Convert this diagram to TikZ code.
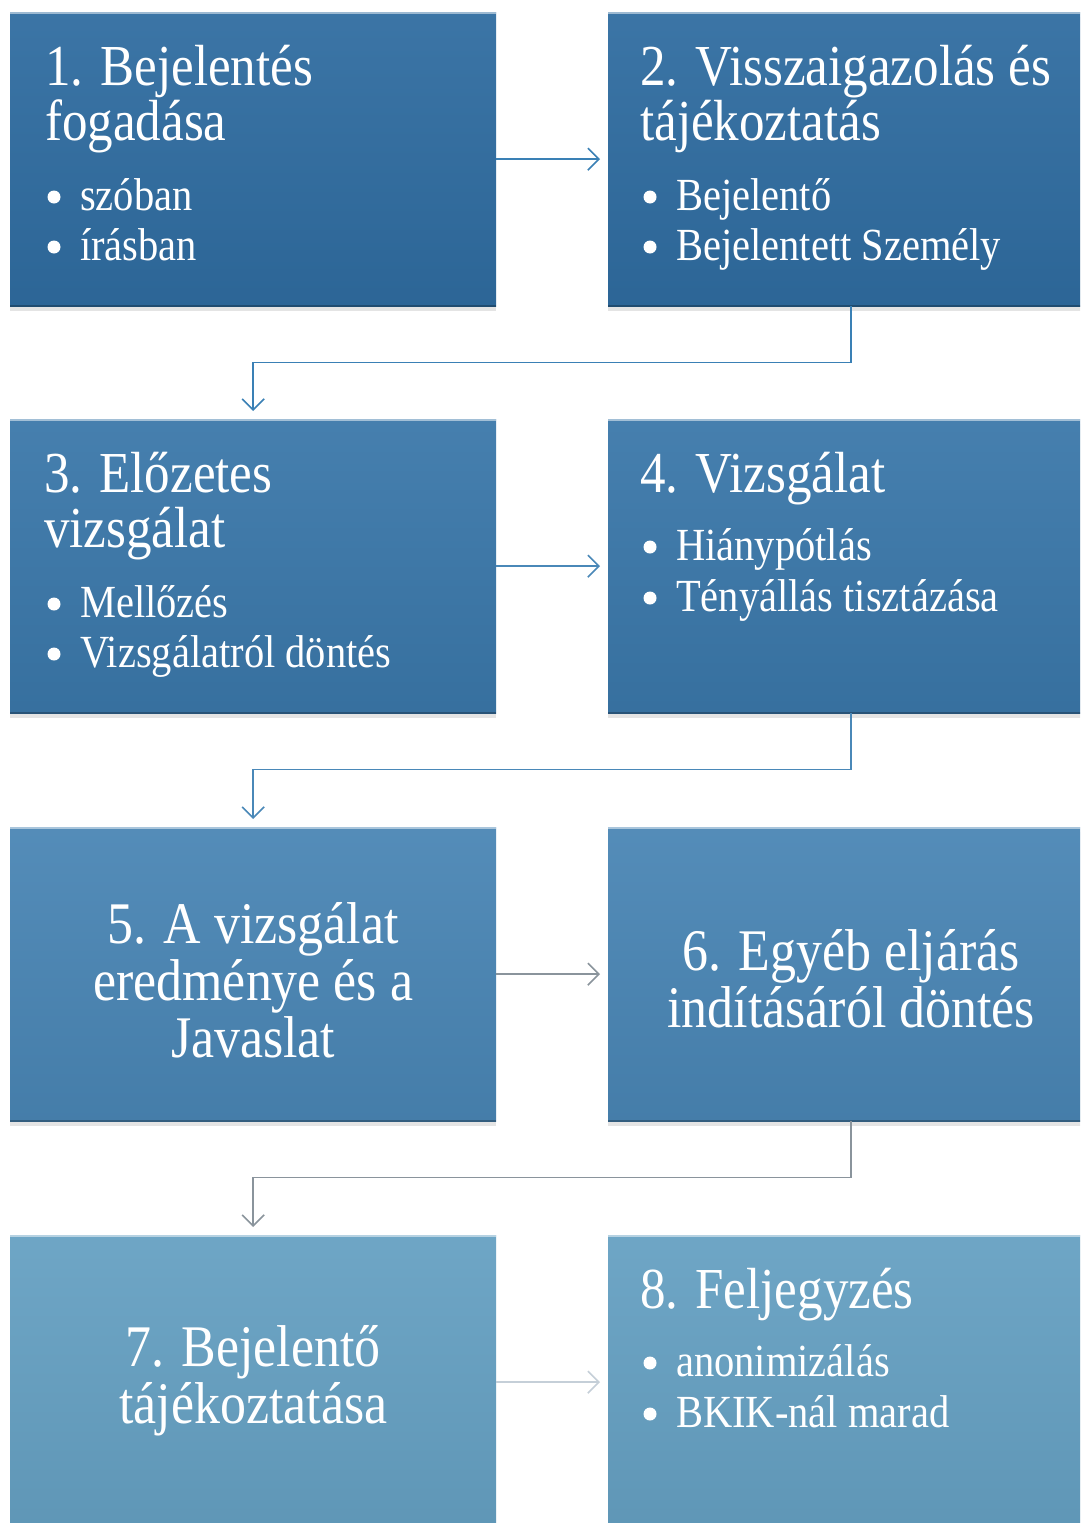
\documentclass[tikz,border=0pt]{standalone}
\usepackage{fontspec}
\setmainfont{Liberation Serif}[FakeStretch=0.88]
\usetikzlibrary{arrows.meta,shadows}
\definecolor{rowA}{HTML}{2F6CA0}
\definecolor{rowB}{HTML}{3A77A9}
\definecolor{rowC}{HTML}{4985B4}
\definecolor{rowD}{HTML}{65A0C2}
\definecolor{arrA}{HTML}{3A80B5}
\definecolor{arrB}{HTML}{4A88B8}
\definecolor{arrC}{HTML}{8A949C}
\definecolor{arrD}{HTML}{C5CFD8}
\tikzset{
  box/.style={rectangle, anchor=north west, minimum width=486pt, minimum height=294pt,
    inner sep=0pt, top color=#1!94!white, bottom color=#1!94!black,
    drop shadow={shadow xshift=0pt, shadow yshift=-5pt, opacity=0.3, fill=gray!70},
    path picture={
      \draw[white, opacity=0.5, line width=3pt] (path picture bounding box.north west) -- (path picture bounding box.north east);
      \draw[black, opacity=0.25, line width=3pt] (path picture bounding box.south west) -- (path picture bounding box.south east);
    }},
  ttl/.style={text=white, inner sep=0pt, align=left, anchor=base west, font=\fontsize{58}{55}\selectfont},
  ctr/.style={text=white, inner sep=0pt, align=center, font=\fontsize{59}{57}\selectfont},
  itm/.style={text=white, inner sep=0pt, anchor=base west, text height=33pt, text depth=10pt, font=\fontsize{46}{50}\selectfont},
  dot/.style={circle, fill=white, inner sep=0pt, minimum size=13pt},
  conn/.style={draw=#1, line width=1.6pt, -{Straight Barb[length=11pt,width=22pt]}, shorten >=8pt}
}
\begin{document}
\begin{tikzpicture}[x=1pt,y=-1pt]
\useasboundingbox (0,0) rectangle (1080,1523);
\clip (0,0) rectangle (1080,1523);
\fill[white] (0,0) rectangle (1080,1523);
% boxes
\node[box=rowA] (b1) at (10,12) {};
\node[box=rowA] (b2) at (608,12) {};
\node[box=rowB] (b3) at (10,419) {};
\node[box=rowB] (b4) at (608,419) {};
\node[box=rowC] (b5) at (10,827) {};
\node[box=rowC] (b6) at (608,827) {};
\node[box=rowD] (b7) at (10,1235) {};
\node[box=rowD] (b8) at (608,1235) {};
% box 1 (base anchor = last line)
\node[ttl] (t1) at (45,140) {1. Bejelentés\\fogadása};
\node[dot] (d1a) at (54,197) {};
\node[itm] (i1a) at (80,210) {szóban};
\node[dot] (d1b) at (54,247) {};
\node[itm] (i1b) at (80,260) {írásban};
% box 2
\node[ttl] (t2) at (640,140) {2. Visszaigazolás és\\tájékoztatás};
\node[dot] (d2a) at (650,197) {};
\node[itm] (i2a) at (676,210) {Bejelentő};
\node[dot] (d2b) at (650,247) {};
\node[itm] (i2b) at (676,260) {Bejelentett Személy};
% box 3
\node[ttl] (t3) at (44,547) {3. Előzetes\\vizsgálat};
\node[dot] (d3a) at (54,604) {};
\node[itm] (i3a) at (80,617) {Mellőzés};
\node[dot] (d3b) at (54,654) {};
\node[itm] (i3b) at (80,667) {Vizsgálatról döntés};
% box 4
\node[ttl] (t4) at (640,492) {4. Vizsgálat};
\node[dot] (d4a) at (650,547) {};
\node[itm] (i4a) at (676,560) {Hiánypótlás};
\node[dot] (d4b) at (650,598) {};
\node[itm] (i4b) at (676,611) {Tényállás tisztázása};
% box 5
\node[ctr] (t5) at ([yshift=-6pt]b5.center) {5. A vizsgálat\\eredménye és a\\Javaslat};
% box 6
\node[ctr] (t6) at ([yshift=-5pt]b6.center) {6. Egyéb eljárás\\indításáról döntés};
% box 7
\node[ctr] (t7) at ([yshift=1pt]b7.center) {7. Bejelentő\\tájékoztatása};
% box 8
\node[ttl] (t8) at (640,1308) {8. Feljegyzés};
\node[dot] (d8a) at (650,1363) {};
\node[itm] (i8a) at (676,1376) {anonimizálás};
\node[dot] (d8b) at (650,1414) {};
\node[itm] (i8b) at (676,1427) {BKIK-nál marad};
% connectors
\draw[conn=arrA] (b1.east) -- (b2.west);
\draw[conn=arrA] (b2.south) -- ++(0,56) -| (b3.north);
\draw[conn=arrB] (b3.east) -- (b4.west);
\draw[conn=arrB] (b4.south) -- ++(0,56) -| (b5.north);
\draw[conn=arrC] (b5.east) -- (b6.west);
\draw[conn=arrC] (b6.south) -- ++(0,56) -| (b7.north);
\draw[conn=arrD] (b7.east) -- (b8.west);
\end{tikzpicture}
\end{document}
